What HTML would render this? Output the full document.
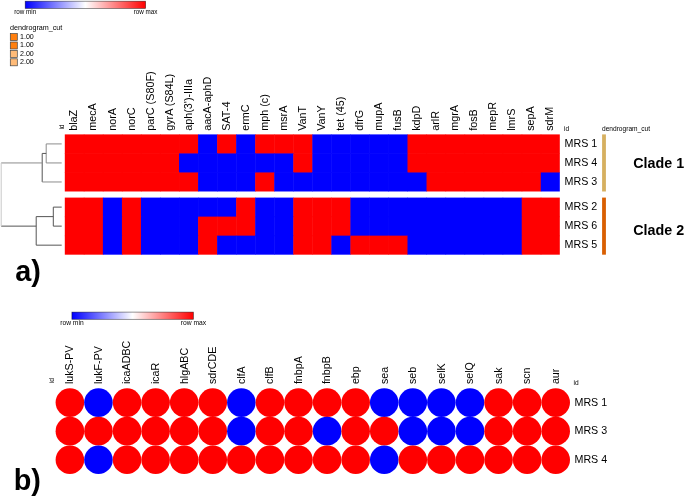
<!DOCTYPE html>
<html lang="en"><head><meta charset="utf-8"><title>Figure</title>
<style>html,body{margin:0;padding:0;background:#fff}body{width:685px;height:497px;overflow:hidden}svg{display:block}text{font-family:"Liberation Sans",sans-serif;fill:#000}.b{font-weight:bold}</style></head><body>
<svg width="685" height="497" viewBox="0 0 685 497">
<defs><linearGradient id="g" x1="0" x2="1" y1="0" y2="0"><stop offset="0" stop-color="#0000ff"/><stop offset="0.5" stop-color="#ffffff"/><stop offset="1" stop-color="#ff0000"/></linearGradient></defs>
<rect width="685" height="497" fill="#fff"/>
<rect x="25.2" y="1.2" width="120.40" height="7.20" fill="url(#g)" stroke="#000" stroke-opacity="0.6" stroke-width="0.7"/>
<text x="25.2" y="14.4" font-size="6.3" text-anchor="middle">row min</text>
<text x="145.6" y="14.4" font-size="6.3" text-anchor="middle">row max</text>
<rect x="71.9" y="312.1" width="121.50" height="7.20" fill="url(#g)" stroke="#000" stroke-opacity="0.6" stroke-width="0.7"/>
<text x="71.9" y="325.4" font-size="6.7" text-anchor="middle">row min</text>
<text x="193.4" y="325.4" font-size="6.7" text-anchor="middle">row max</text>
<text x="10" y="30" font-size="7.2">dendrogram_cut</text>
<rect x="10.3" y="33.60" width="7" height="7" fill="#ff7f0e" stroke="#444" stroke-width="0.7"/>
<text x="20" y="38.80" font-size="7.1">1.00</text>
<rect x="10.3" y="42.00" width="7" height="7" fill="#ff7f0e" stroke="#444" stroke-width="0.7"/>
<text x="20" y="47.20" font-size="7.1">1.00</text>
<rect x="10.3" y="50.40" width="7" height="7" fill="#ffbb78" stroke="#444" stroke-width="0.7"/>
<text x="20" y="55.60" font-size="7.1">2.00</text>
<rect x="10.3" y="58.80" width="7" height="7" fill="#ffbb78" stroke="#444" stroke-width="0.7"/>
<text x="20" y="64.00" font-size="7.1">2.00</text>
<rect x="64.80" y="134.40" width="19.54" height="19.53" fill="#ff0000"/>
<rect x="83.84" y="134.40" width="19.54" height="19.53" fill="#ff0000"/>
<rect x="102.88" y="134.40" width="19.54" height="19.53" fill="#ff0000"/>
<rect x="121.92" y="134.40" width="19.54" height="19.53" fill="#ff0000"/>
<rect x="140.95" y="134.40" width="19.54" height="19.53" fill="#ff0000"/>
<rect x="159.99" y="134.40" width="19.54" height="19.53" fill="#ff0000"/>
<rect x="179.03" y="134.40" width="19.54" height="19.53" fill="#ff0000"/>
<rect x="198.07" y="134.40" width="19.54" height="19.53" fill="#0000ff"/>
<rect x="217.11" y="134.40" width="19.54" height="19.53" fill="#ff0000"/>
<rect x="236.15" y="134.40" width="19.54" height="19.53" fill="#0000ff"/>
<rect x="255.18" y="134.40" width="19.54" height="19.53" fill="#ff0000"/>
<rect x="274.22" y="134.40" width="19.54" height="19.53" fill="#ff0000"/>
<rect x="293.26" y="134.40" width="19.54" height="19.53" fill="#ff0000"/>
<rect x="312.30" y="134.40" width="19.54" height="19.53" fill="#0000ff"/>
<rect x="331.34" y="134.40" width="19.54" height="19.53" fill="#0000ff"/>
<rect x="350.38" y="134.40" width="19.54" height="19.53" fill="#0000ff"/>
<rect x="369.42" y="134.40" width="19.54" height="19.53" fill="#0000ff"/>
<rect x="388.45" y="134.40" width="19.54" height="19.53" fill="#0000ff"/>
<rect x="407.49" y="134.40" width="19.54" height="19.53" fill="#ff0000"/>
<rect x="426.53" y="134.40" width="19.54" height="19.53" fill="#ff0000"/>
<rect x="445.57" y="134.40" width="19.54" height="19.53" fill="#ff0000"/>
<rect x="464.61" y="134.40" width="19.54" height="19.53" fill="#ff0000"/>
<rect x="483.65" y="134.40" width="19.54" height="19.53" fill="#ff0000"/>
<rect x="502.68" y="134.40" width="19.54" height="19.53" fill="#ff0000"/>
<rect x="521.72" y="134.40" width="19.54" height="19.53" fill="#ff0000"/>
<rect x="540.76" y="134.40" width="19.04" height="19.53" fill="#ff0000"/>
<text x="564.6" y="146.92" font-size="10.7">MRS 1</text>
<rect x="64.80" y="153.43" width="19.54" height="19.53" fill="#ff0000"/>
<rect x="83.84" y="153.43" width="19.54" height="19.53" fill="#ff0000"/>
<rect x="102.88" y="153.43" width="19.54" height="19.53" fill="#ff0000"/>
<rect x="121.92" y="153.43" width="19.54" height="19.53" fill="#ff0000"/>
<rect x="140.95" y="153.43" width="19.54" height="19.53" fill="#ff0000"/>
<rect x="159.99" y="153.43" width="19.54" height="19.53" fill="#ff0000"/>
<rect x="179.03" y="153.43" width="19.54" height="19.53" fill="#0000ff"/>
<rect x="198.07" y="153.43" width="19.54" height="19.53" fill="#0000ff"/>
<rect x="217.11" y="153.43" width="19.54" height="19.53" fill="#0000ff"/>
<rect x="236.15" y="153.43" width="19.54" height="19.53" fill="#0000ff"/>
<rect x="255.18" y="153.43" width="19.54" height="19.53" fill="#0000ff"/>
<rect x="274.22" y="153.43" width="19.54" height="19.53" fill="#0000ff"/>
<rect x="293.26" y="153.43" width="19.54" height="19.53" fill="#ff0000"/>
<rect x="312.30" y="153.43" width="19.54" height="19.53" fill="#0000ff"/>
<rect x="331.34" y="153.43" width="19.54" height="19.53" fill="#0000ff"/>
<rect x="350.38" y="153.43" width="19.54" height="19.53" fill="#0000ff"/>
<rect x="369.42" y="153.43" width="19.54" height="19.53" fill="#0000ff"/>
<rect x="388.45" y="153.43" width="19.54" height="19.53" fill="#0000ff"/>
<rect x="407.49" y="153.43" width="19.54" height="19.53" fill="#ff0000"/>
<rect x="426.53" y="153.43" width="19.54" height="19.53" fill="#ff0000"/>
<rect x="445.57" y="153.43" width="19.54" height="19.53" fill="#ff0000"/>
<rect x="464.61" y="153.43" width="19.54" height="19.53" fill="#ff0000"/>
<rect x="483.65" y="153.43" width="19.54" height="19.53" fill="#ff0000"/>
<rect x="502.68" y="153.43" width="19.54" height="19.53" fill="#ff0000"/>
<rect x="521.72" y="153.43" width="19.54" height="19.53" fill="#ff0000"/>
<rect x="540.76" y="153.43" width="19.04" height="19.53" fill="#ff0000"/>
<text x="564.6" y="165.94" font-size="10.7">MRS 4</text>
<rect x="64.80" y="172.46" width="19.54" height="19.03" fill="#ff0000"/>
<rect x="83.84" y="172.46" width="19.54" height="19.03" fill="#ff0000"/>
<rect x="102.88" y="172.46" width="19.54" height="19.03" fill="#ff0000"/>
<rect x="121.92" y="172.46" width="19.54" height="19.03" fill="#ff0000"/>
<rect x="140.95" y="172.46" width="19.54" height="19.03" fill="#ff0000"/>
<rect x="159.99" y="172.46" width="19.54" height="19.03" fill="#ff0000"/>
<rect x="179.03" y="172.46" width="19.54" height="19.03" fill="#ff0000"/>
<rect x="198.07" y="172.46" width="19.54" height="19.03" fill="#0000ff"/>
<rect x="217.11" y="172.46" width="19.54" height="19.03" fill="#0000ff"/>
<rect x="236.15" y="172.46" width="19.54" height="19.03" fill="#0000ff"/>
<rect x="255.18" y="172.46" width="19.54" height="19.03" fill="#ff0000"/>
<rect x="274.22" y="172.46" width="19.54" height="19.03" fill="#0000ff"/>
<rect x="293.26" y="172.46" width="19.54" height="19.03" fill="#0000ff"/>
<rect x="312.30" y="172.46" width="19.54" height="19.03" fill="#0000ff"/>
<rect x="331.34" y="172.46" width="19.54" height="19.03" fill="#0000ff"/>
<rect x="350.38" y="172.46" width="19.54" height="19.03" fill="#0000ff"/>
<rect x="369.42" y="172.46" width="19.54" height="19.03" fill="#0000ff"/>
<rect x="388.45" y="172.46" width="19.54" height="19.03" fill="#0000ff"/>
<rect x="407.49" y="172.46" width="19.54" height="19.03" fill="#0000ff"/>
<rect x="426.53" y="172.46" width="19.54" height="19.03" fill="#ff0000"/>
<rect x="445.57" y="172.46" width="19.54" height="19.03" fill="#ff0000"/>
<rect x="464.61" y="172.46" width="19.54" height="19.03" fill="#ff0000"/>
<rect x="483.65" y="172.46" width="19.54" height="19.03" fill="#ff0000"/>
<rect x="502.68" y="172.46" width="19.54" height="19.03" fill="#ff0000"/>
<rect x="521.72" y="172.46" width="19.54" height="19.03" fill="#ff0000"/>
<rect x="540.76" y="172.46" width="19.04" height="19.03" fill="#0000ff"/>
<text x="564.6" y="184.98" font-size="10.7">MRS 3</text>
<rect x="64.80" y="197.59" width="19.54" height="19.53" fill="#ff0000"/>
<rect x="83.84" y="197.59" width="19.54" height="19.53" fill="#ff0000"/>
<rect x="102.88" y="197.59" width="19.54" height="19.53" fill="#0000ff"/>
<rect x="121.92" y="197.59" width="19.54" height="19.53" fill="#ff0000"/>
<rect x="140.95" y="197.59" width="19.54" height="19.53" fill="#0000ff"/>
<rect x="159.99" y="197.59" width="19.54" height="19.53" fill="#0000ff"/>
<rect x="179.03" y="197.59" width="19.54" height="19.53" fill="#0000ff"/>
<rect x="198.07" y="197.59" width="19.54" height="19.53" fill="#0000ff"/>
<rect x="217.11" y="197.59" width="19.54" height="19.53" fill="#0000ff"/>
<rect x="236.15" y="197.59" width="19.54" height="19.53" fill="#ff0000"/>
<rect x="255.18" y="197.59" width="19.54" height="19.53" fill="#0000ff"/>
<rect x="274.22" y="197.59" width="19.54" height="19.53" fill="#0000ff"/>
<rect x="293.26" y="197.59" width="19.54" height="19.53" fill="#ff0000"/>
<rect x="312.30" y="197.59" width="19.54" height="19.53" fill="#ff0000"/>
<rect x="331.34" y="197.59" width="19.54" height="19.53" fill="#ff0000"/>
<rect x="350.38" y="197.59" width="19.54" height="19.53" fill="#0000ff"/>
<rect x="369.42" y="197.59" width="19.54" height="19.53" fill="#0000ff"/>
<rect x="388.45" y="197.59" width="19.54" height="19.53" fill="#0000ff"/>
<rect x="407.49" y="197.59" width="19.54" height="19.53" fill="#0000ff"/>
<rect x="426.53" y="197.59" width="19.54" height="19.53" fill="#0000ff"/>
<rect x="445.57" y="197.59" width="19.54" height="19.53" fill="#0000ff"/>
<rect x="464.61" y="197.59" width="19.54" height="19.53" fill="#0000ff"/>
<rect x="483.65" y="197.59" width="19.54" height="19.53" fill="#0000ff"/>
<rect x="502.68" y="197.59" width="19.54" height="19.53" fill="#0000ff"/>
<rect x="521.72" y="197.59" width="19.54" height="19.53" fill="#ff0000"/>
<rect x="540.76" y="197.59" width="19.04" height="19.53" fill="#ff0000"/>
<text x="564.6" y="210.11" font-size="10.7">MRS 2</text>
<rect x="64.80" y="216.62" width="19.54" height="19.53" fill="#ff0000"/>
<rect x="83.84" y="216.62" width="19.54" height="19.53" fill="#ff0000"/>
<rect x="102.88" y="216.62" width="19.54" height="19.53" fill="#0000ff"/>
<rect x="121.92" y="216.62" width="19.54" height="19.53" fill="#ff0000"/>
<rect x="140.95" y="216.62" width="19.54" height="19.53" fill="#0000ff"/>
<rect x="159.99" y="216.62" width="19.54" height="19.53" fill="#0000ff"/>
<rect x="179.03" y="216.62" width="19.54" height="19.53" fill="#0000ff"/>
<rect x="198.07" y="216.62" width="19.54" height="19.53" fill="#ff0000"/>
<rect x="217.11" y="216.62" width="19.54" height="19.53" fill="#ff0000"/>
<rect x="236.15" y="216.62" width="19.54" height="19.53" fill="#ff0000"/>
<rect x="255.18" y="216.62" width="19.54" height="19.53" fill="#0000ff"/>
<rect x="274.22" y="216.62" width="19.54" height="19.53" fill="#0000ff"/>
<rect x="293.26" y="216.62" width="19.54" height="19.53" fill="#ff0000"/>
<rect x="312.30" y="216.62" width="19.54" height="19.53" fill="#ff0000"/>
<rect x="331.34" y="216.62" width="19.54" height="19.53" fill="#ff0000"/>
<rect x="350.38" y="216.62" width="19.54" height="19.53" fill="#0000ff"/>
<rect x="369.42" y="216.62" width="19.54" height="19.53" fill="#0000ff"/>
<rect x="388.45" y="216.62" width="19.54" height="19.53" fill="#0000ff"/>
<rect x="407.49" y="216.62" width="19.54" height="19.53" fill="#0000ff"/>
<rect x="426.53" y="216.62" width="19.54" height="19.53" fill="#0000ff"/>
<rect x="445.57" y="216.62" width="19.54" height="19.53" fill="#0000ff"/>
<rect x="464.61" y="216.62" width="19.54" height="19.53" fill="#0000ff"/>
<rect x="483.65" y="216.62" width="19.54" height="19.53" fill="#0000ff"/>
<rect x="502.68" y="216.62" width="19.54" height="19.53" fill="#0000ff"/>
<rect x="521.72" y="216.62" width="19.54" height="19.53" fill="#ff0000"/>
<rect x="540.76" y="216.62" width="19.04" height="19.53" fill="#ff0000"/>
<text x="564.6" y="229.13" font-size="10.7">MRS 6</text>
<rect x="64.80" y="235.65" width="19.54" height="19.03" fill="#ff0000"/>
<rect x="83.84" y="235.65" width="19.54" height="19.03" fill="#ff0000"/>
<rect x="102.88" y="235.65" width="19.54" height="19.03" fill="#0000ff"/>
<rect x="121.92" y="235.65" width="19.54" height="19.03" fill="#ff0000"/>
<rect x="140.95" y="235.65" width="19.54" height="19.03" fill="#0000ff"/>
<rect x="159.99" y="235.65" width="19.54" height="19.03" fill="#0000ff"/>
<rect x="179.03" y="235.65" width="19.54" height="19.03" fill="#0000ff"/>
<rect x="198.07" y="235.65" width="19.54" height="19.03" fill="#ff0000"/>
<rect x="217.11" y="235.65" width="19.54" height="19.03" fill="#0000ff"/>
<rect x="236.15" y="235.65" width="19.54" height="19.03" fill="#0000ff"/>
<rect x="255.18" y="235.65" width="19.54" height="19.03" fill="#0000ff"/>
<rect x="274.22" y="235.65" width="19.54" height="19.03" fill="#0000ff"/>
<rect x="293.26" y="235.65" width="19.54" height="19.03" fill="#ff0000"/>
<rect x="312.30" y="235.65" width="19.54" height="19.03" fill="#ff0000"/>
<rect x="331.34" y="235.65" width="19.54" height="19.03" fill="#0000ff"/>
<rect x="350.38" y="235.65" width="19.54" height="19.03" fill="#ff0000"/>
<rect x="369.42" y="235.65" width="19.54" height="19.03" fill="#ff0000"/>
<rect x="388.45" y="235.65" width="19.54" height="19.03" fill="#ff0000"/>
<rect x="407.49" y="235.65" width="19.54" height="19.03" fill="#0000ff"/>
<rect x="426.53" y="235.65" width="19.54" height="19.03" fill="#0000ff"/>
<rect x="445.57" y="235.65" width="19.54" height="19.03" fill="#0000ff"/>
<rect x="464.61" y="235.65" width="19.54" height="19.03" fill="#0000ff"/>
<rect x="483.65" y="235.65" width="19.54" height="19.03" fill="#0000ff"/>
<rect x="502.68" y="235.65" width="19.54" height="19.03" fill="#0000ff"/>
<rect x="521.72" y="235.65" width="19.54" height="19.03" fill="#ff0000"/>
<rect x="540.76" y="235.65" width="19.04" height="19.03" fill="#ff0000"/>
<text x="564.6" y="248.17" font-size="10.7">MRS 5</text>
<text transform="translate(77.42,130.8) rotate(-90)" font-size="10.8">blaZ</text>
<text transform="translate(96.46,130.8) rotate(-90)" font-size="10.8">mecA</text>
<text transform="translate(115.50,130.8) rotate(-90)" font-size="10.8">norA</text>
<text transform="translate(134.53,130.8) rotate(-90)" font-size="10.8">norC</text>
<text transform="translate(153.57,130.8) rotate(-90)" font-size="10.8">parC (S80F)</text>
<text transform="translate(172.61,130.8) rotate(-90)" font-size="10.8">gyrA (S84L)</text>
<text transform="translate(191.65,130.8) rotate(-90)" font-size="10.8">aph(3&#39;)-IIIa</text>
<text transform="translate(210.69,130.8) rotate(-90)" font-size="10.8">aacA-aphD</text>
<text transform="translate(229.73,130.8) rotate(-90)" font-size="10.8">SAT-4</text>
<text transform="translate(248.77,130.8) rotate(-90)" font-size="10.8">ermC</text>
<text transform="translate(267.80,130.8) rotate(-90)" font-size="10.8">mph (c)</text>
<text transform="translate(286.84,130.8) rotate(-90)" font-size="10.8">msrA</text>
<text transform="translate(305.88,130.8) rotate(-90)" font-size="10.8">VanT</text>
<text transform="translate(324.92,130.8) rotate(-90)" font-size="10.8">VanY</text>
<text transform="translate(343.96,130.8) rotate(-90)" font-size="10.8">tet (45)</text>
<text transform="translate(363.00,130.8) rotate(-90)" font-size="10.8">dfrG</text>
<text transform="translate(382.03,130.8) rotate(-90)" font-size="10.8">mupA</text>
<text transform="translate(401.07,130.8) rotate(-90)" font-size="10.8">fusB</text>
<text transform="translate(420.11,130.8) rotate(-90)" font-size="10.8">kdpD</text>
<text transform="translate(439.15,130.8) rotate(-90)" font-size="10.8">arlR</text>
<text transform="translate(458.19,130.8) rotate(-90)" font-size="10.8">mgrA</text>
<text transform="translate(477.23,130.8) rotate(-90)" font-size="10.8">fosB</text>
<text transform="translate(496.27,130.8) rotate(-90)" font-size="10.8">mepR</text>
<text transform="translate(515.30,130.8) rotate(-90)" font-size="10.8">lmrS</text>
<text transform="translate(534.34,130.8) rotate(-90)" font-size="10.8">sepA</text>
<text transform="translate(553.38,130.8) rotate(-90)" font-size="10.8">sdrM</text>
<text transform="translate(63.6,129.6) rotate(-90)" font-size="6.6">id</text>
<text x="564" y="130.6" font-size="6.6">id</text>
<text x="602" y="130.6" font-size="6.6">dendrogram_cut</text>
<rect x="602.1" y="134.40" width="3.8" height="57.09" fill="#d6b060"/>
<rect x="602.1" y="197.59" width="3.8" height="57.09" fill="#d95f02"/>
<text class="b" x="633.3" y="167.6" font-size="14.3">Clade 1</text>
<text class="b" x="633.3" y="234.8" font-size="14.3">Clade 2</text>
<g fill="none" stroke-linecap="butt">
<line x1="46.20" y1="143.92" x2="61.70" y2="143.92" stroke="#8c8c8c" stroke-width="1"/>
<line x1="46.20" y1="162.94" x2="61.70" y2="162.94" stroke="#8c8c8c" stroke-width="1"/>
<line x1="46.20" y1="143.92" x2="46.20" y2="162.94" stroke="#8c8c8c" stroke-width="1"/>
<line x1="42.20" y1="153.43" x2="46.20" y2="153.43" stroke="#555" stroke-width="1"/>
<line x1="42.20" y1="153.43" x2="42.20" y2="181.98" stroke="#555" stroke-width="1"/>
<line x1="42.20" y1="181.98" x2="61.70" y2="181.98" stroke="#8c8c8c" stroke-width="1"/>
<line x1="1.20" y1="162.94" x2="42.20" y2="162.94" stroke="#8c8c8c" stroke-width="1"/>
<line x1="53.30" y1="207.11" x2="61.70" y2="207.11" stroke="#555" stroke-width="1"/>
<line x1="53.30" y1="226.13" x2="61.70" y2="226.13" stroke="#555" stroke-width="1"/>
<line x1="53.30" y1="207.11" x2="53.30" y2="226.13" stroke="#555" stroke-width="1"/>
<line x1="36.20" y1="216.62" x2="53.30" y2="216.62" stroke="#555" stroke-width="1"/>
<line x1="36.20" y1="216.62" x2="36.20" y2="245.17" stroke="#555" stroke-width="1"/>
<line x1="36.20" y1="245.17" x2="61.70" y2="245.17" stroke="#555" stroke-width="1"/>
<line x1="1.20" y1="226.13" x2="36.20" y2="226.13" stroke="#555" stroke-width="1"/>
<line x1="1.20" y1="162.94" x2="1.20" y2="226.13" stroke="#c8c8c8" stroke-width="1"/>
</g>
<text class="b" x="15.2" y="280.8" font-size="28.8">a)</text>
<text class="b" x="13.7" y="490.3" font-size="28.8">b)</text>
<circle cx="69.89" cy="402.59" r="14.29" fill="#ff0000"/>
<circle cx="98.47" cy="402.59" r="14.29" fill="#0000ff"/>
<circle cx="127.04" cy="402.59" r="14.29" fill="#ff0000"/>
<circle cx="155.62" cy="402.59" r="14.29" fill="#ff0000"/>
<circle cx="184.20" cy="402.59" r="14.29" fill="#ff0000"/>
<circle cx="212.78" cy="402.59" r="14.29" fill="#ff0000"/>
<circle cx="241.36" cy="402.59" r="14.29" fill="#0000ff"/>
<circle cx="269.93" cy="402.59" r="14.29" fill="#ff0000"/>
<circle cx="298.51" cy="402.59" r="14.29" fill="#ff0000"/>
<circle cx="327.09" cy="402.59" r="14.29" fill="#ff0000"/>
<circle cx="355.67" cy="402.59" r="14.29" fill="#ff0000"/>
<circle cx="384.24" cy="402.59" r="14.29" fill="#0000ff"/>
<circle cx="412.82" cy="402.59" r="14.29" fill="#0000ff"/>
<circle cx="441.40" cy="402.59" r="14.29" fill="#0000ff"/>
<circle cx="469.98" cy="402.59" r="14.29" fill="#0000ff"/>
<circle cx="498.56" cy="402.59" r="14.29" fill="#ff0000"/>
<circle cx="527.13" cy="402.59" r="14.29" fill="#ff0000"/>
<circle cx="555.71" cy="402.59" r="14.29" fill="#ff0000"/>
<text x="574.5" y="405.59" font-size="10.7">MRS 1</text>
<circle cx="69.89" cy="431.16" r="14.29" fill="#ff0000"/>
<circle cx="98.47" cy="431.16" r="14.29" fill="#ff0000"/>
<circle cx="127.04" cy="431.16" r="14.29" fill="#ff0000"/>
<circle cx="155.62" cy="431.16" r="14.29" fill="#ff0000"/>
<circle cx="184.20" cy="431.16" r="14.29" fill="#ff0000"/>
<circle cx="212.78" cy="431.16" r="14.29" fill="#ff0000"/>
<circle cx="241.36" cy="431.16" r="14.29" fill="#0000ff"/>
<circle cx="269.93" cy="431.16" r="14.29" fill="#ff0000"/>
<circle cx="298.51" cy="431.16" r="14.29" fill="#ff0000"/>
<circle cx="327.09" cy="431.16" r="14.29" fill="#0000ff"/>
<circle cx="355.67" cy="431.16" r="14.29" fill="#ff0000"/>
<circle cx="384.24" cy="431.16" r="14.29" fill="#ff0000"/>
<circle cx="412.82" cy="431.16" r="14.29" fill="#0000ff"/>
<circle cx="441.40" cy="431.16" r="14.29" fill="#0000ff"/>
<circle cx="469.98" cy="431.16" r="14.29" fill="#0000ff"/>
<circle cx="498.56" cy="431.16" r="14.29" fill="#ff0000"/>
<circle cx="527.13" cy="431.16" r="14.29" fill="#ff0000"/>
<circle cx="555.71" cy="431.16" r="14.29" fill="#ff0000"/>
<text x="574.5" y="434.16" font-size="10.7">MRS 3</text>
<circle cx="69.89" cy="459.73" r="14.29" fill="#ff0000"/>
<circle cx="98.47" cy="459.73" r="14.29" fill="#0000ff"/>
<circle cx="127.04" cy="459.73" r="14.29" fill="#ff0000"/>
<circle cx="155.62" cy="459.73" r="14.29" fill="#ff0000"/>
<circle cx="184.20" cy="459.73" r="14.29" fill="#ff0000"/>
<circle cx="212.78" cy="459.73" r="14.29" fill="#ff0000"/>
<circle cx="241.36" cy="459.73" r="14.29" fill="#ff0000"/>
<circle cx="269.93" cy="459.73" r="14.29" fill="#ff0000"/>
<circle cx="298.51" cy="459.73" r="14.29" fill="#ff0000"/>
<circle cx="327.09" cy="459.73" r="14.29" fill="#ff0000"/>
<circle cx="355.67" cy="459.73" r="14.29" fill="#ff0000"/>
<circle cx="384.24" cy="459.73" r="14.29" fill="#0000ff"/>
<circle cx="412.82" cy="459.73" r="14.29" fill="#ff0000"/>
<circle cx="441.40" cy="459.73" r="14.29" fill="#ff0000"/>
<circle cx="469.98" cy="459.73" r="14.29" fill="#ff0000"/>
<circle cx="498.56" cy="459.73" r="14.29" fill="#ff0000"/>
<circle cx="527.13" cy="459.73" r="14.29" fill="#ff0000"/>
<circle cx="555.71" cy="459.73" r="14.29" fill="#ff0000"/>
<text x="574.5" y="462.73" font-size="10.7">MRS 4</text>
<text transform="translate(73.19,384.1) rotate(-90)" font-size="10.7">lukS-PV</text>
<text transform="translate(101.77,384.1) rotate(-90)" font-size="10.7">lukF-PV</text>
<text transform="translate(130.34,384.1) rotate(-90)" font-size="10.7">icaADBC</text>
<text transform="translate(158.92,384.1) rotate(-90)" font-size="10.7">icaR</text>
<text transform="translate(187.50,384.1) rotate(-90)" font-size="10.7">hlgABC</text>
<text transform="translate(216.08,384.1) rotate(-90)" font-size="10.7">sdrCDE</text>
<text transform="translate(244.66,384.1) rotate(-90)" font-size="10.7">clfA</text>
<text transform="translate(273.23,384.1) rotate(-90)" font-size="10.7">clfB</text>
<text transform="translate(301.81,384.1) rotate(-90)" font-size="10.7">fnbpA</text>
<text transform="translate(330.39,384.1) rotate(-90)" font-size="10.7">fnbpB</text>
<text transform="translate(358.97,384.1) rotate(-90)" font-size="10.7">ebp</text>
<text transform="translate(387.54,384.1) rotate(-90)" font-size="10.7">sea</text>
<text transform="translate(416.12,384.1) rotate(-90)" font-size="10.7">seb</text>
<text transform="translate(444.70,384.1) rotate(-90)" font-size="10.7">selK</text>
<text transform="translate(473.28,384.1) rotate(-90)" font-size="10.7">selQ</text>
<text transform="translate(501.86,384.1) rotate(-90)" font-size="10.7">sak</text>
<text transform="translate(530.43,384.1) rotate(-90)" font-size="10.7">scn</text>
<text transform="translate(559.01,384.1) rotate(-90)" font-size="10.7">aur</text>
<text transform="translate(54.4,383.2) rotate(-90)" font-size="6.6">id</text>
<text x="573.5" y="384.8" font-size="6.6">id</text>
</svg></body></html>
